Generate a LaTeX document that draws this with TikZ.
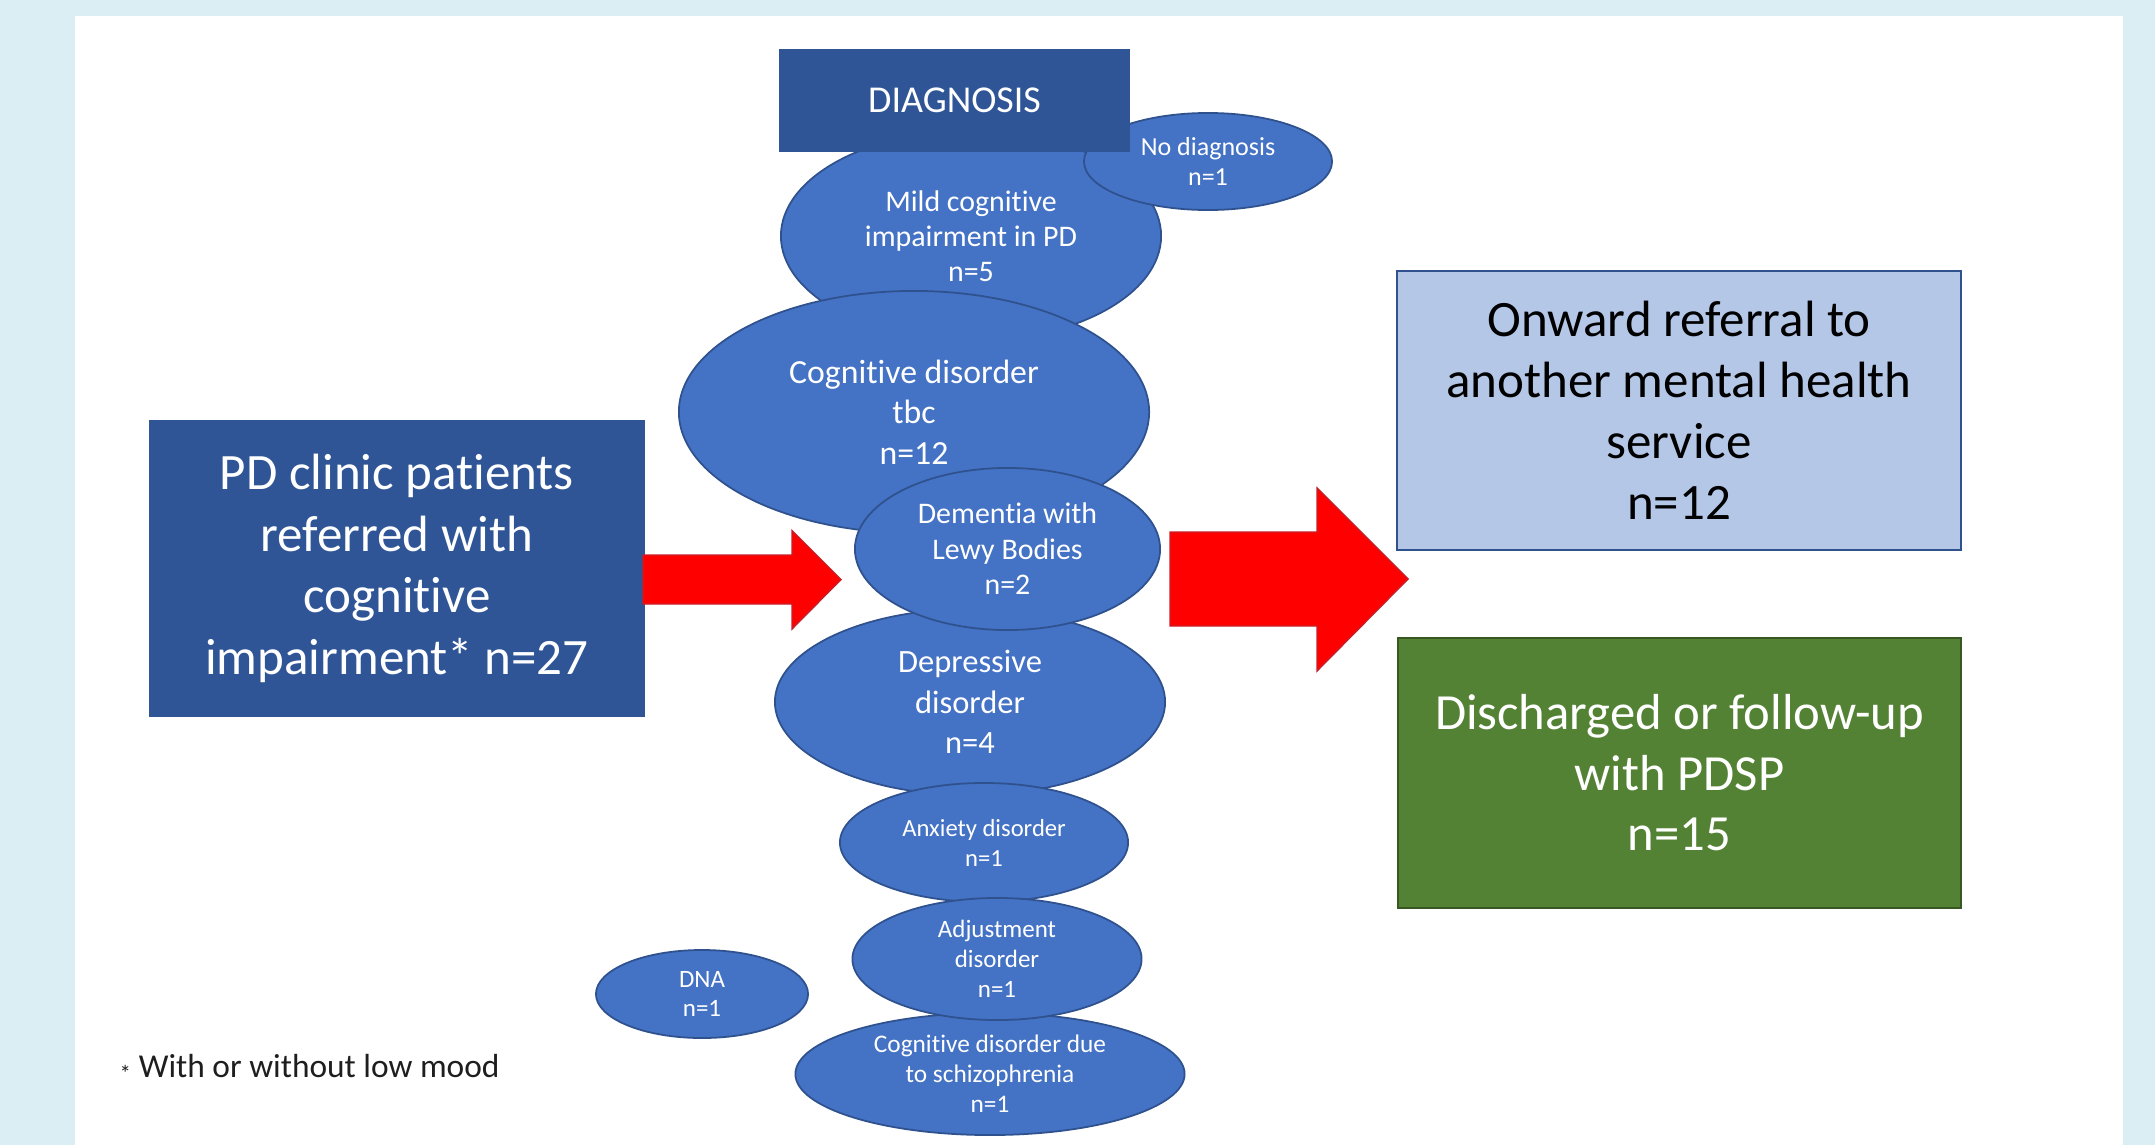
\documentclass[tikz,border=0pt]{standalone}
\usepackage{fontspec}
\setmainfont{Carlito}[Ligatures=NoCommon]
\usetikzlibrary{shapes.geometric}
\definecolor{bgblue}{RGB}{219,238,244}
\definecolor{ellfill}{RGB}{68,114,196}
\definecolor{ellline}{RGB}{47,82,143}
\definecolor{darkbox}{RGB}{47,85,151}
\definecolor{lightbox}{RGB}{180,199,231}
\definecolor{greenbox}{RGB}{84,130,53}
\definecolor{greenline}{RGB}{56,87,35}
\definecolor{arrowred}{RGB}{255,0,0}
\definecolor{arrowline}{RGB}{200,30,40}
\begin{document}
\begin{tikzpicture}[x=0.01cm,y=-0.01cm,
  blob/.style={ellipse, fill=ellfill, draw=ellline, line width=0.5pt, inner sep=0pt},
  btext/.style={text=white, align=center, inner sep=0pt},
  box/.style={rectangle, inner sep=0pt, align=center},
  bigarrow/.style={fill=arrowred, draw=arrowline, line width=0.4pt}]
\useasboundingbox (0,0) rectangle (2155,1145);
\fill[bgblue] (0,0) rectangle (2155,1145);
\fill[white] (75,16) rectangle (2123,1145);

% left column box
\node[box, fill=darkbox, text=white, minimum width=4.96cm, minimum height=2.97cm,
  font=\fontsize{14.5}{17.5}\selectfont] (pd) at (397,568.5)
  {PD clinic patients\\referred with\\cognitive\\impairment* n=27};

% outcome boxes
\node[box, fill=lightbox, draw=ellline, line width=0.5pt, text=black, minimum width=5.64cm, minimum height=2.79cm,
  font=\fontsize{14.5}{17.4}\selectfont] (onward) at (1679,410.5)
  {Onward referral to\\another mental health\\service\\n=12};
\node[box, fill=greenbox, draw=greenline, line width=0.5pt, text=white, minimum width=5.63cm, minimum height=2.70cm,
  font=\fontsize{14.4}{17.2}\selectfont] (disch) at (1679.5,773)
  {Discharged or follow-up\\with PDSP\\n=15};

% block arrows
\filldraw[bigarrow] (643,555) -- (792,555) -- (792,530.5) -- (841,579.5) -- (792,629) -- (792,604) -- (643,604) -- cycle;
\filldraw[bigarrow] (1170,532) -- (1317,532) -- (1317,488) -- (1408,579) -- (1317,671) -- (1317,626) -- (1170,626) -- cycle;

% diagnosis ellipses
\node[blob, minimum width=3.80cm, minimum height=2.10cm] (mild) at (971,236) {};
\node[btext, font=\fontsize{8.5}{10.0}\selectfont] (mildT) at (mild.center) {Mild cognitive\\impairment in PD\\n=5};

\node[blob, minimum width=2.48cm, minimum height=0.97cm] (nodiag) at (1208,161.5) {};
\node[btext, font=\fontsize{7.4}{8.5}\selectfont] (nodiagT) at (nodiag.center) {No diagnosis\\n=1};

\node[blob, minimum width=4.70cm, minimum height=2.42cm] (tbc) at (914,412) {};
\node[btext, font=\fontsize{9.6}{11.5}\selectfont] (tbcT) at (tbc.center) {Cognitive disorder\\tbc\\n=12};

\node[blob, minimum width=3.90cm, minimum height=1.86cm] (depr) at (970,702) {};
\node[btext, font=\fontsize{9.25}{11.6}\selectfont] (deprT) at (depr.center) {Depressive\\disorder\\n=4};

\node[blob, minimum width=2.88cm, minimum height=1.19cm] (anx) at (984,842.5) {};
\node[btext, font=\fontsize{7.0}{8.5}\selectfont] (anxT) at (anx.center) {Anxiety disorder\\n=1};

\node[blob, minimum width=3.89cm, minimum height=1.22cm] (schiz) at (990,1074) {};
\node[btext, font=\fontsize{7.2}{8.5}\selectfont] (schizT) at (schiz.center) {Cognitive disorder due\\to schizophrenia\\n=1};

\node[blob, minimum width=2.89cm, minimum height=1.22cm] (adj) at (997,959) {};
\node[btext, font=\fontsize{7.1}{8.45}\selectfont] (adjT) at (adj.center) {Adjustment\\disorder\\n=1};

\node[blob, minimum width=3.05cm, minimum height=1.62cm] (dlb) at (1007.5,549) {};
\node[btext, font=\fontsize{8.5}{10.1}\selectfont] (dlbT) at (dlb.center) {Dementia with\\Lewy Bodies\\n=2};

\node[blob, minimum width=2.12cm, minimum height=0.88cm] (dna) at (702,994) {};
\node[btext, font=\fontsize{7.1}{8.5}\selectfont] (dnaT) at (dna.center) {DNA\\n=1};

% header box
\node[box, fill=darkbox, text=white, minimum width=3.51cm, minimum height=1.025cm,
  font=\fontsize{10.8}{13}\selectfont] (diag) at (954.5,100.75) {DIAGNOSIS};

% footnote
\node[anchor=base west, inner sep=0pt, text={rgb,255:red,30;green,30;blue,30},
  font=\fontsize{9.5}{11.4}\selectfont] (foot) at (119,1077)
  {\raisebox{-1.3pt}{\fontsize{6.5}{7}\selectfont *}\hspace{2.2pt}With or without low mood};
\end{tikzpicture}
\end{document}
